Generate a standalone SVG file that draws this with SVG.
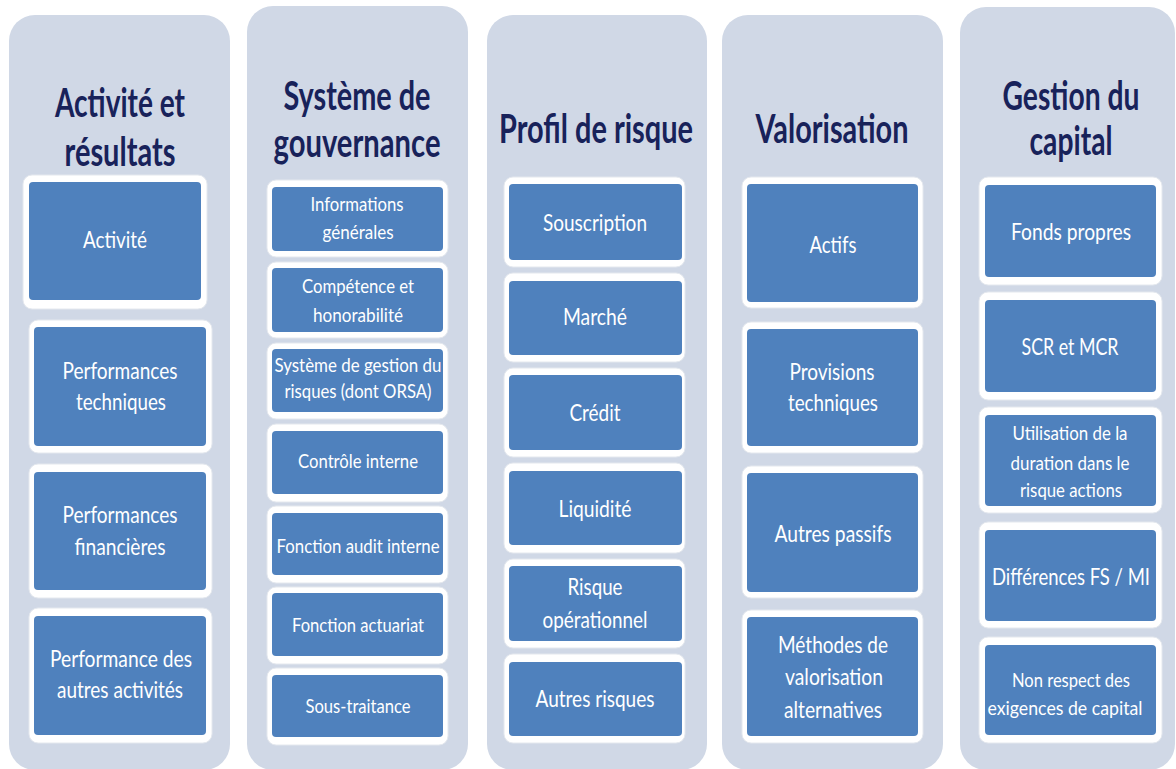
<svg xmlns="http://www.w3.org/2000/svg" width="1176" height="769" viewBox="0 0 1176 769">
<style>
.col{fill:#D0D8E6}
.fr{fill:#FFFFFF;stroke:#E4E8EE;stroke-width:1}
.bx{fill:#4F81BD}
.ti{font-family:Lato,"Liberation Sans",sans-serif;font-weight:bold;font-size:41px;fill:#18225A;text-anchor:middle}
.t{font-family:Lato,"Liberation Sans",sans-serif;font-size:23px;fill:#FFFFFF;text-anchor:middle}
.s{font-family:Lato,"Liberation Sans",sans-serif;font-size:19px;fill:#FFFFFF;text-anchor:middle}
</style>
<rect width="1176" height="769" fill="#FFFFFF"/>

<g id="col1">
<rect class="col" x="9" y="15" width="221" height="755" rx="26"/>
<text class="ti" x="120" y="117" textLength="130" lengthAdjust="spacingAndGlyphs">Activité et</text>
<text class="ti" x="120" y="166" textLength="111" lengthAdjust="spacingAndGlyphs">résultats</text>
</g>
<g id="n-activite">
<rect class="fr" x="23" y="175" width="184" height="134" rx="9"/>
<rect class="bx" x="29" y="182" width="172" height="118" rx="4"/>
<text class="t" x="115" y="248" textLength="64" lengthAdjust="spacingAndGlyphs">Activité</text>
</g>
<g id="n-perf-tech">
<rect class="fr" x="29" y="320" width="183" height="133" rx="9"/>
<rect class="bx" x="34" y="327" width="172" height="119" rx="4"/>
<text class="t" x="120" y="379" textLength="115" lengthAdjust="spacingAndGlyphs">Performances</text>
<text class="t" x="121" y="410" textLength="90" lengthAdjust="spacingAndGlyphs">techniques</text>
</g>
<g id="n-perf-fin">
<rect class="fr" x="29" y="464" width="183" height="134" rx="9"/>
<rect class="bx" x="34" y="472" width="172" height="118" rx="4"/>
<text class="t" x="120" y="523" textLength="115" lengthAdjust="spacingAndGlyphs">Performances</text>
<text class="t" x="120" y="555" textLength="91" lengthAdjust="spacingAndGlyphs">financières</text>
</g>
<g id="n-perf-autres">
<rect class="fr" x="29" y="608" width="183" height="135" rx="9"/>
<rect class="bx" x="34" y="616" width="172" height="119" rx="4"/>
<text class="t" x="121" y="667" textLength="142" lengthAdjust="spacingAndGlyphs">Performance des</text>
<text class="t" x="120" y="698" textLength="126" lengthAdjust="spacingAndGlyphs">autres activités</text>
</g>

<g id="col2">
<rect class="col" x="247" y="6" width="221" height="764" rx="26"/>
<text class="ti" x="357" y="110" textLength="147" lengthAdjust="spacingAndGlyphs">Système de</text>
<text class="ti" x="357" y="157" textLength="167" lengthAdjust="spacingAndGlyphs">gouvernance</text>
</g>
<g id="n-info">
<rect class="fr" x="267" y="180" width="181" height="77" rx="9"/>
<rect class="bx" x="272" y="187" width="171" height="64" rx="4"/>
<text class="s" x="357" y="211" textLength="93" lengthAdjust="spacingAndGlyphs">Informations</text>
<text class="s" x="358" y="239" textLength="71" lengthAdjust="spacingAndGlyphs">générales</text>
</g>
<g id="n-competence">
<rect class="fr" x="267" y="262" width="181" height="76" rx="9"/>
<rect class="bx" x="272" y="268" width="171" height="64" rx="4"/>
<text class="s" x="358" y="293" textLength="112" lengthAdjust="spacingAndGlyphs">Compétence et</text>
<text class="s" x="358" y="322" textLength="90" lengthAdjust="spacingAndGlyphs">honorabilité</text>
</g>
<g id="n-gestion-risques">
<rect class="fr" x="267" y="343" width="181" height="76" rx="9"/>
<rect class="bx" x="272" y="349" width="171" height="63" rx="4"/>
<text class="s" x="358" y="372" textLength="167" lengthAdjust="spacingAndGlyphs">Système de gestion du</text>
<text class="s" x="358" y="398" textLength="147" lengthAdjust="spacingAndGlyphs">risques (dont ORSA)</text>
</g>
<g id="n-controle">
<rect class="fr" x="267" y="424" width="181" height="78" rx="9"/>
<rect class="bx" x="272" y="431" width="171" height="63" rx="4"/>
<text class="s" x="358" y="468" textLength="120" lengthAdjust="spacingAndGlyphs">Contrôle interne</text>
</g>
<g id="n-audit">
<rect class="fr" x="267" y="506" width="181" height="77" rx="9"/>
<rect class="bx" x="272" y="513" width="171" height="62" rx="4"/>
<text class="s" x="358" y="553" textLength="163" lengthAdjust="spacingAndGlyphs">Fonction audit interne</text>
</g>
<g id="n-actuariat">
<rect class="fr" x="267" y="587" width="181" height="77" rx="9"/>
<rect class="bx" x="272" y="593" width="171" height="63" rx="4"/>
<text class="s" x="358" y="632" textLength="132" lengthAdjust="spacingAndGlyphs">Fonction actuariat</text>
</g>
<g id="n-sous-traitance">
<rect class="fr" x="267" y="668" width="181" height="77" rx="9"/>
<rect class="bx" x="272" y="675" width="171" height="62" rx="4"/>
<text class="s" x="358" y="713" textLength="105" lengthAdjust="spacingAndGlyphs">Sous-traitance</text>
</g>

<g id="col3">
<rect class="col" x="487" y="15" width="220" height="755" rx="26"/>
<text class="ti" x="596" y="143" textLength="194" lengthAdjust="spacingAndGlyphs">Profil de risque</text>
</g>
<g id="n-souscription">
<rect class="fr" x="504" y="177" width="181" height="90" rx="9"/>
<rect class="bx" x="509" y="184" width="173" height="76" rx="4"/>
<text class="t" x="595" y="231" textLength="104" lengthAdjust="spacingAndGlyphs">Souscription</text>
</g>
<g id="n-marche">
<rect class="fr" x="504" y="273" width="181" height="89" rx="9"/>
<rect class="bx" x="509" y="281" width="173" height="74" rx="4"/>
<text class="t" x="595" y="325" textLength="64" lengthAdjust="spacingAndGlyphs">Marché</text>
</g>
<g id="n-credit">
<rect class="fr" x="504" y="368" width="181" height="89" rx="9"/>
<rect class="bx" x="509" y="375" width="173" height="75" rx="4"/>
<text class="t" x="595" y="421" textLength="51" lengthAdjust="spacingAndGlyphs">Crédit</text>
</g>
<g id="n-liquidite">
<rect class="fr" x="504" y="463" width="181" height="90" rx="9"/>
<rect class="bx" x="509" y="471" width="173" height="74" rx="4"/>
<text class="t" x="595" y="517" textLength="73" lengthAdjust="spacingAndGlyphs">Liquidité</text>
</g>
<g id="n-operationnel">
<rect class="fr" x="504" y="559" width="181" height="89" rx="9"/>
<rect class="bx" x="509" y="566" width="173" height="75" rx="4"/>
<text class="t" x="595" y="595" textLength="55" lengthAdjust="spacingAndGlyphs">Risque</text>
<text class="t" x="595" y="628" textLength="105" lengthAdjust="spacingAndGlyphs">opérationnel</text>
</g>
<g id="n-autres-risques">
<rect class="fr" x="504" y="654" width="181" height="89" rx="9"/>
<rect class="bx" x="509" y="662" width="173" height="74" rx="4"/>
<text class="t" x="595" y="707" textLength="119" lengthAdjust="spacingAndGlyphs">Autres risques</text>
</g>

<g id="col4">
<rect class="col" x="722" y="15" width="221" height="755" rx="26"/>
<text class="ti" x="832" y="143" textLength="153" lengthAdjust="spacingAndGlyphs">Valorisation</text>
</g>
<g id="n-actifs">
<rect class="fr" x="742" y="177" width="181" height="131" rx="9"/>
<rect class="bx" x="747" y="184" width="171" height="118" rx="4"/>
<text class="t" x="833" y="253" textLength="47" lengthAdjust="spacingAndGlyphs">Actifs</text>
</g>
<g id="n-provisions">
<rect class="fr" x="742" y="322" width="181" height="131" rx="9"/>
<rect class="bx" x="747" y="329" width="171" height="117" rx="4"/>
<text class="t" x="832" y="380" textLength="85" lengthAdjust="spacingAndGlyphs">Provisions</text>
<text class="t" x="833" y="411" textLength="90" lengthAdjust="spacingAndGlyphs">techniques</text>
</g>
<g id="n-autres-passifs">
<rect class="fr" x="742" y="466" width="181" height="132" rx="9"/>
<rect class="bx" x="747" y="473" width="171" height="119" rx="4"/>
<text class="t" x="833" y="542" textLength="117" lengthAdjust="spacingAndGlyphs">Autres passifs</text>
</g>
<g id="n-methodes">
<rect class="fr" x="742" y="610" width="181" height="133" rx="9"/>
<rect class="bx" x="747" y="617" width="171" height="119" rx="4"/>
<text class="t" x="833" y="653" textLength="110" lengthAdjust="spacingAndGlyphs">Méthodes de</text>
<text class="t" x="834" y="685" textLength="98" lengthAdjust="spacingAndGlyphs">valorisation</text>
<text class="t" x="833" y="718" textLength="98" lengthAdjust="spacingAndGlyphs">alternatives</text>
</g>

<g id="col5">
<rect class="col" x="960" y="7" width="215" height="763" rx="26"/>
<text class="ti" x="1071" y="110" textLength="137" lengthAdjust="spacingAndGlyphs">Gestion du</text>
<text class="ti" x="1071" y="155" textLength="83" lengthAdjust="spacingAndGlyphs">capital</text>
</g>
<g id="n-fonds-propres">
<rect class="fr" x="979" y="177" width="183" height="108" rx="9"/>
<rect class="bx" x="985" y="185" width="171" height="92" rx="4"/>
<text class="t" x="1071" y="240" textLength="120" lengthAdjust="spacingAndGlyphs">Fonds propres</text>
</g>
<g id="n-scr-mcr">
<rect class="fr" x="979" y="292" width="183" height="108" rx="9"/>
<rect class="bx" x="985" y="300" width="171" height="92" rx="4"/>
<text class="t" x="1070" y="355" textLength="97" lengthAdjust="spacingAndGlyphs">SCR et MCR</text>
</g>
<g id="n-duration">
<rect class="fr" x="979" y="407" width="183" height="106" rx="9"/>
<rect class="bx" x="985" y="415" width="171" height="91" rx="4"/>
<text class="s" x="1070" y="440" textLength="115" lengthAdjust="spacingAndGlyphs">Utilisation de la</text>
<text class="s" x="1070" y="470" textLength="119" lengthAdjust="spacingAndGlyphs">duration dans le</text>
<text class="s" x="1071" y="497" textLength="102" lengthAdjust="spacingAndGlyphs">risque actions</text>
</g>
<g id="n-differences">
<rect class="fr" x="979" y="522" width="183" height="106" rx="9"/>
<rect class="bx" x="985" y="530" width="171" height="91" rx="4"/>
<text class="t" x="1071" y="585" textLength="158" lengthAdjust="spacingAndGlyphs">Différences FS / MI</text>
</g>
<g id="n-non-respect">
<rect class="fr" x="979" y="637" width="183" height="106" rx="9"/>
<rect class="bx" x="985" y="645" width="171" height="90" rx="4"/>
<text class="s" x="1071" y="687" textLength="118" lengthAdjust="spacingAndGlyphs">Non respect des</text>
<text class="s" x="1065" y="715" textLength="155" lengthAdjust="spacingAndGlyphs">exigences de capital</text>
</g>

<g id="connectors"/>
</svg>
